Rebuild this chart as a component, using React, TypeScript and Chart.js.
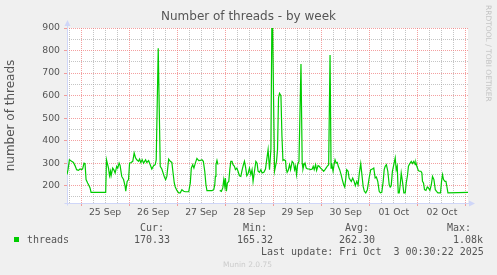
import React, { useEffect, useRef } from "react";
import { Chart, registerables } from "chart.js";

Chart.register(...registerables);

// hours since Sep 24 17:00
const hours = [
  0, 0.5, 1.2, 2.3, 3.2, 4, 4.8, 5.7, 6.5, 7.3,
  7.8, 8.5, 9, 9.5, 10.3, 11, 11.5, 12, 19.3, 19.7,
  20.7, 21.2, 21.7, 22, 22.8, 23.5, 24, 24.8, 25.3, 26,
  26.5, 27.3, 28.2, 29, 29.3, 30, 30.7, 31.2, 32, 32.8,
  33.5, 34.2, 34.8, 35.7, 36.2, 36.8, 37.5, 38.2, 39.2, 39.8,
  40.7, 41.5, 42.3, 43.2, 44, 44.5, 45.5, 46.5, 47.3, 48.5,
  49.2, 49.8, 50.7, 51.5, 52.3, 52.8, 53.5, 54, 54.8, 55.7,
  56.5, 57.3, 58.2, 59, 60.7, 61.5, 62, 62.7, 63.3, 64,
  64.8, 65.7, 66.5, 67.3, 68, 68.7, 69.3, 69.8, 72.3, 73.2,
  73.7, 74, 74.3, 74.8, 75.3, 75.8, 76.2, 77, 77.7, 78.2,
  78.7, 79, 79.5, 80, 80.7, 81.2, 81.7, 82.3, 82.8, 83.5,
  84, 84.7, 85.3, 86, 86.7, 87.3, 88, 88.5, 89, 89.7,
  90.3, 91, 91.7, 92.3, 92.8, 93.5, 94.2, 94.8, 95.3, 96,
  96.7, 97.3, 98.2, 99, 99.5, 100.3, 101, 101.7, 102.3, 103.5,
  104.5, 105, 105.5, 106, 106.7, 107.2, 107.7, 108.2, 109, 109.3,
  109.8, 110.3, 111, 111.5, 112, 112.3, 113, 113.5, 114, 114.5,
  115, 115.7, 116.7, 117.3, 117.7, 118.2, 118.7, 119.3, 120, 120.7,
  121.5, 122.3, 122.8, 123.3, 124, 124.5, 125.2, 125.8, 126.5, 127.3,
  128, 128.7, 129.2, 129.8, 130.5, 131.2, 131.7, 132, 132.7, 133.2,
  133.7, 134.3, 134.8, 135.3, 136, 136.7, 137.3, 138, 138.5, 139,
  139.5, 140.2, 140.7, 141.2, 141.8, 142.5, 143.2, 143.8, 144.5, 145.2,
  145.8, 146.5, 147, 147.7, 148.3, 149, 149.8, 150.7, 151.5, 152.3,
  153, 153.7, 154.3, 155, 155.7, 156.3, 157, 157.7, 158.2, 158.7,
  159.3, 160, 160.7, 161.2, 161.7, 162.3, 163, 163.7, 164.2, 164.7,
  165.2, 165.7, 166.2, 166.7, 167.3, 168, 168.7, 169.2, 169.8, 170.3,
  171, 171.7, 172.3, 173, 173.7, 174, 174.5, 175.2, 175.7, 176.5,
  177, 177.3, 177.8, 178.3, 179, 179.7, 180.3, 181, 181.7, 182.3,
  183, 183.7, 184.3, 185, 186.3, 186.8, 187.3, 187.8, 188.5, 189,
  189.5, 190, 200,
];

const threads: (number | null)[] = [
  249, 271, 315, 308, 303, 289, 271, 268, 274, 271,
  274, 300, 298, 227, 212, 200, 190, 170, 170, 315,
  278, 244, 264, 244, 278, 268, 256, 286, 278, 300,
  289, 241, 227, 197, 175, 219, 227, 300, 303, 308,
  345, 323, 315, 308, 318, 303, 315, 300, 315, 303,
  311, 293, 274, 289, 293, 315, 810, 286, 274, 241,
  227, 241, 318, 308, 303, 264, 212, 194, 179, 168,
  168, 182, 175, 173, 173, 212, 278, 293, 278, 300,
  321, 311, 312, 315, 308, 264, 204, 178, 178, 182,
  204, 241, 293, 312, 293, null, 179, 175, 190, 227,
  197, 234, 175, 212, 219, 271, 308, 308, 293, 286,
  271, 278, 264, 244, 241, 268, 293, 308, 286, 244,
  253, 278, 249, 271, 219, 264, 308, 300, 264, 259,
  271, 256, 259, 274, 308, 360, 271, 363, 1080, 264,
  308, 360, 590, 610, 600, 420, 312, 315, 311, 278,
  259, 267, 293, 271, 293, 308, 300, 271, 286, 249,
  293, 308, 740, 300, 274, 293, 300, 278, 274, 274,
  271, 274, 286, 271, 293, 268, 289, 286, 278, 271,
  264, 271, 278, 286, 293, 780, 278, 300, 264, 293,
  315, 300, 303, 286, 271, 249, 227, 204, 194, 227,
  271, 264, 234, 227, 219, 234, 219, 200, 219, 204,
  256, 298, 256, 197, 175, 168, 182, 234, 271, 274,
  278, 234, 238, 219, 175, 168, 170, 219, 271, 286,
  293, 264, 204, 194, 200, 264, 293, 323, 271, 286,
  168, 168, 204, 256, 219, 168, 168, 212, 244, 286,
  298, 308, 298, 308, 293, 303, 286, 268, 264, 264,
  256, 219, 212, 182, 179, 194, 190, 179, 204, 241,
  227, 182, 175, 168, 168, 219, 249, 227, 219, 219,
  194, 168, 170,
];

const dayLabels = ["25 Sep", "26 Sep", "27 Sep", "28 Sep", "29 Sep", "30 Sep", "01 Oct", "02 Oct"];
const yTicks = [150, 200, 250, 300, 350, 400, 450, 500, 550, 600, 650, 700, 750, 800, 850, 900];
const statLabels = ["Cur:", "Min:", "Avg:", "Max:"];
const statValues = ["170.33", "165.32", "262.30", "1.08k"];
const seriesName = "threads";
const titleText = "Number of threads - by week";
const yTitle = "number of threads";
const lastUpdate = "Last update: Fri Oct  3 00:30:22 2025";
const version = "Munin 2.0.75";
const watermark = "RRDTOOL / TOBI OETIKER";

const Y_MIN = 123;
const Y_MAX = 900;
const X_MIN = 0;
const X_MAX = 200;
const FIRST_MIDNIGHT = 7;

const AXIS = "#cfd6f8";
const MGRID = "rgba(240,120,120,0.7)";
const GRID = "rgba(150,150,150,0.55)";
const FONT = "#555555";
const LINE = "#00cc00";

const framePlugin = {
  id: "frame",
  beforeDraw(chart: any) {
    const { ctx, chartArea: a } = chart;
    ctx.save();
    ctx.fillStyle = "#ffffff";
    ctx.fillRect(a.left, a.top, a.right - a.left, a.bottom - a.top);
    ctx.restore();
  },
  beforeDatasetsDraw(chart: any) {
    const { ctx, chartArea: a } = chart;
    const x = Math.round(a.left) + 0.5;
    const y = Math.round(a.bottom) + 0.5;
    ctx.save();
    ctx.strokeStyle = AXIS;
    ctx.lineWidth = 1;
    ctx.beginPath();
    ctx.moveTo(x, y + 2);
    ctx.lineTo(x, a.top - 4);
    ctx.moveTo(x - 3, y);
    ctx.lineTo(a.right + 2, y);
    ctx.stroke();
    ctx.fillStyle = AXIS;
    ctx.beginPath();
    ctx.moveTo(x, a.top - 8);
    ctx.lineTo(x - 3, a.top - 2);
    ctx.lineTo(x + 3, a.top - 2);
    ctx.closePath();
    ctx.fill();
    ctx.beginPath();
    ctx.moveTo(a.right + 7, y);
    ctx.lineTo(a.right + 1, y - 3);
    ctx.lineTo(a.right + 1, y + 3);
    ctx.closePath();
    ctx.fill();
    ctx.restore();
  },
};

const monoText = (left: number, top: number, text: string, key: string) => (
  <span
    key={key}
    style={{
      position: "absolute",
      left,
      top,
      font: '10px "DejaVu Sans Mono"',
      lineHeight: "10px",
      color: FONT,
      whiteSpace: "pre",
    }}
  >
    {text}
  </span>
);

export default function App() {
  const ref = useRef<HTMLCanvasElement>(null);

  useEffect(() => {
    document.body.style.margin = "0";
    const tickFont = { family: "DejaVu Sans", size: 9.3 };
    const chart = new Chart(ref.current!, {
      type: "line",
      data: {
        datasets: [
          {
            label: seriesName,
            data: hours.map((h, i) => ({ x: h, y: threads[i] })) as any,
            borderColor: LINE,
            borderWidth: 1.2,
            pointRadius: 0,
            tension: 0,
            spanGaps: false,
            fill: false,
          },
        ],
      },
      options: {
        responsive: false,
        maintainAspectRatio: false,
        animation: false,
        devicePixelRatio: 1,
        layout: { padding: 0 },
        plugins: {
          legend: { display: false },
          tooltip: { enabled: false },
          title: {
            display: true,
            text: titleText,
            color: FONT,
            font: { family: "DejaVu Sans", size: 12, weight: "normal" as any },
            padding: { top: 10, bottom: 3.6 },
          },
        },
        scales: {
          x: {
            type: "linear",
            min: X_MIN,
            max: X_MAX,
            afterBuildTicks: (s: any) => {
              const t = [];
              for (let h = FIRST_MIDNIGHT - 6; h <= X_MAX; h += 6) t.push({ value: h });
              s.ticks = t;
            },
            afterFit: (s: any) => {
              s.height = 72;
            },
            ticks: {
              autoSkip: false,
              maxRotation: 0,
              padding: 1,
              color: FONT,
              font: tickFont,
              callback: (v: any) => {
                const d = (Number(v) - FIRST_MIDNIGHT - 12) / 24;
                return Number.isInteger(d) && dayLabels[d] ? dayLabels[d] : "";
              },
            },
            grid: {
              color: (c: any) => ((c.tick.value - FIRST_MIDNIGHT) % 24 === 0 ? MGRID : GRID),
              tickColor: (c: any) => ((c.tick.value - FIRST_MIDNIGHT) % 24 === 0 ? MGRID : "rgba(0,0,0,0)"),
              lineWidth: 1,
              drawTicks: true,
              tickLength: 3,
            },
            border: { display: false, dash: [1, 1] },
          },
          y: {
            type: "linear",
            min: Y_MIN,
            max: Y_MAX,
            afterBuildTicks: (s: any) => {
              s.ticks = yTicks.map((v) => ({ value: v }));
            },
            afterFit: (s: any) => {
              s.width = 67;
            },
            ticks: {
              autoSkip: false,
              padding: 4,
              color: FONT,
              font: tickFont,
              callback: (v: any) => (Number(v) % 100 === 0 ? String(v) : ""),
            },
            grid: {
              color: (c: any) => (c.tick.value % 100 === 0 ? MGRID : GRID),
              tickColor: (c: any) => (c.tick.value % 100 === 0 ? MGRID : "rgba(0,0,0,0)"),
              lineWidth: 1,
              drawTicks: true,
              tickLength: 3,
            },
            border: { display: false, dash: [1, 1] },
            title: {
              display: true,
              text: yTitle,
              color: FONT,
              font: { family: "DejaVu Sans", size: 12 },
              padding: { top: 4, bottom: 0 },
            },
          },
          yRight: {
            type: "linear",
            position: "right",
            display: true,
            min: 0,
            max: 1,
            ticks: { display: false },
            grid: { display: false, drawTicks: false },
            border: { display: false },
            afterFit: (s: any) => {
              s.width = 29;
            },
          },
        },
      },
      plugins: [framePlugin],
    });
    return () => chart.destroy();
  }, []);

  const labelLefts = [140, 243, 345, 447];
  const valueLefts = [134, 237, 339, 453];

  return (
    <div
      style={{
        position: "relative",
        width: 497,
        height: 275,
        background: "#f0f0f0",
        overflow: "hidden",
      }}
    >
      <canvas
        ref={ref}
        width={497}
        height={275}
        style={{ position: "absolute", left: 0, top: 0, width: 497, height: 275 }}
      />
      <span
        style={{
          position: "absolute",
          left: 492,
          top: 5,
          transform: "rotate(90deg)",
          transformOrigin: "0 0",
          font: '7.5px "DejaVu Sans"',
          lineHeight: "7.5px",
          color: "#c4c4c4",
          whiteSpace: "pre",
        }}
      >
        {watermark}
      </span>
      <div
        style={{
          position: "absolute",
          left: 14,
          top: 237,
          width: 5,
          height: 5,
          background: LINE,
        }}
      />
      {monoText(27, 234.5, seriesName, "name")}
      {statLabels.map((t, i) => monoText(labelLefts[i], 223, t, "l" + i))}
      {statValues.map((t, i) => monoText(valueLefts[i], 234.5, t, "v" + i))}
      {monoText(261, 246.5, lastUpdate, "upd")}
      <span
        style={{
          position: "absolute",
          left: 223,
          top: 260.5,
          font: '7.5px "DejaVu Sans"',
          lineHeight: "7.5px",
          color: "#cccccc",
          whiteSpace: "pre",
        }}
      >
        {version}
      </span>
    </div>
  );
}
